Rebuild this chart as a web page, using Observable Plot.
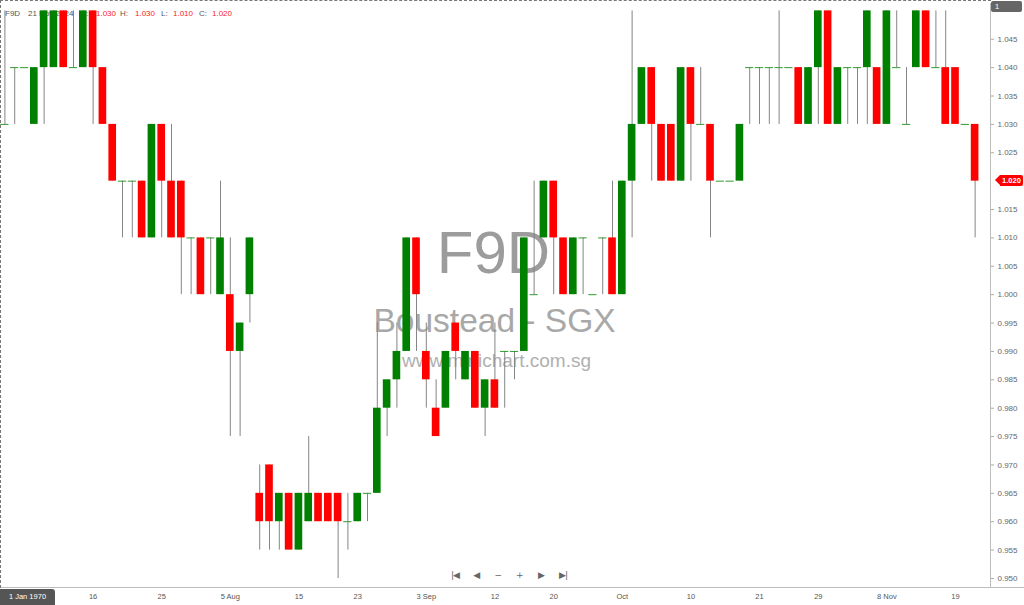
<!DOCTYPE html>
<html>
<head>
<meta charset="utf-8">
<script src="https://cdn.jsdelivr.net/npm/d3@7"></script>
<script src="https://cdn.jsdelivr.net/npm/@observablehq/plot@0.6"></script>
<style>
  html, body { margin: 0; padding: 0; background: #fff; }
  #wrap { position: relative; width: 1024px; height: 605px; overflow: hidden;
          font-family: "Liberation Sans", Arial, sans-serif; }
  #legend { position: absolute; left: 0; top: 0; width: 320px; height: 24px; z-index: 0;
            font-size: 8px; color: #555; }
  #legend span { position: absolute; top: 9px; white-space: nowrap; }
  #legend .v { color: #ff1a1a; }
  #chart { position: absolute; left: 0; top: 0; z-index: 1; }
  #border { position: absolute; left: 0; top: 0; width: 991px; height: 588px; box-sizing: border-box;
            border-top: 1px dashed #777; border-left: 1px dashed #777; z-index: 2; pointer-events: none; }
  .tag { position: absolute; z-index: 3; color: #fff; font-size: 7.5px; line-height: 11px; }
  #pageTag { left: 991px; top: 1px; width: 31px; height: 11px; background: #666; border-radius: 2px;
             padding-left: 4px; box-sizing: border-box; }
  #dateTag { left: 0; top: 589px; width: 55px; height: 16px; background: #555; border-radius: 0 3px 0 0;
             text-align: center; line-height: 16px; }
  #priceTag { left: 1000px; width: 23px; height: 11px; background: #ff0000; font-weight: bold;
              text-align: center; border-radius: 0 2px 2px 0; }
  #priceTag::before { content: ""; position: absolute; left: -5px; top: 0; border-top: 5.5px solid transparent;
                      border-bottom: 5.5px solid transparent; border-right: 5px solid #ff0000; }
  #nav { position: absolute; top: 569px; left: 0; width: 1024px; height: 12px; z-index: 3;
         font-family: "DejaVu Sans", sans-serif; font-size: 9px; color: #666; }
  #nav span { position: absolute; transform: translateX(-50%); line-height: 12px; white-space: nowrap; }
</style>
</head>
<body>
<div id="wrap">
  <div id="legend"></div>
  <div id="chart"></div>
  <div id="border"></div>
  <div id="pageTag" class="tag">1</div>
  <div id="dateTag" class="tag">1 Jan 1970</div>
  <div id="priceTag" class="tag"></div>
  <div id="nav"></div>
</div>
<script>
// F9D Boustead (SGX) daily sessions, 3 Jul 2024 – 21 Nov 2024
const symbol = "F9D";
const company = "Boustead - SGX";
const site = "www.minichart.com.sg";
const lastSession = "21 Nov 2024";

const open = [
  1.030, 1.040, 1.040, 1.030, 1.040, 1.040, 1.050, 1.040, 1.040, 1.050,
  1.040, 1.030, 1.020, 1.020, 1.020, 1.010, 1.030, 1.020, 1.020, 1.010,
  1.010, 1.010, 1.000, 1.000, 0.990, 1.000, 0.965, 0.970, 0.960, 0.965,
  0.955, 0.960, 0.965, 0.965, 0.965, 0.960, 0.960, 0.965, 0.965, 0.980,
  0.985, 0.990, 1.010, 0.990, 0.980, 0.980, 0.995, 0.985, 0.990, 0.980,
  0.985, 0.990, 0.990, 0.990, 1.000, 1.010, 1.020, 1.010, 1.000, 1.010,
  1.000, 1.010, 1.010, 1.000, 1.020, 1.030, 1.040, 1.030, 1.030, 1.020,
  1.040, 1.030, 1.030, 1.020, 1.020, 1.020, 1.040, 1.040, 1.040, 1.040,
  1.040, 1.040, 1.030, 1.040, 1.050, 1.030, 1.040, 1.040, 1.040, 1.040,
  1.030, 1.040, 1.030, 1.040, 1.050, 1.040, 1.040, 1.040, 1.030, 1.030
];
const high = [
  1.050, 1.040, 1.040, 1.040, 1.050, 1.050, 1.050, 1.050, 1.050, 1.050,
  1.040, 1.030, 1.020, 1.020, 1.020, 1.030, 1.030, 1.030, 1.020, 1.010,
  1.010, 1.010, 1.020, 1.010, 0.995, 1.010, 0.970, 0.970, 0.965, 0.965,
  0.965, 0.975, 0.965, 0.965, 0.965, 0.965, 0.965, 0.965, 0.995, 0.985,
  0.995, 1.010, 1.010, 0.995, 0.985, 0.990, 0.995, 0.990, 0.990, 0.985,
  0.995, 0.990, 0.990, 1.010, 1.020, 1.020, 1.020, 1.010, 1.010, 1.010,
  1.000, 1.010, 1.020, 1.020, 1.050, 1.040, 1.040, 1.030, 1.030, 1.040,
  1.040, 1.040, 1.030, 1.020, 1.020, 1.030, 1.040, 1.040, 1.040, 1.050,
  1.040, 1.040, 1.040, 1.050, 1.050, 1.040, 1.040, 1.040, 1.050, 1.040,
  1.050, 1.050, 1.040, 1.050, 1.050, 1.050, 1.050, 1.040, 1.030, 1.030
];
const low = [
  1.030, 1.030, 1.040, 1.030, 1.030, 1.040, 1.040, 1.040, 1.040, 1.030,
  1.030, 1.020, 1.010, 1.010, 1.010, 1.010, 1.010, 1.010, 1.000, 1.000,
  1.000, 1.000, 1.000, 0.975, 0.975, 0.995, 0.955, 0.955, 0.955, 0.955,
  0.955, 0.960, 0.960, 0.960, 0.950, 0.955, 0.960, 0.960, 0.965, 0.975,
  0.980, 0.990, 0.990, 0.980, 0.975, 0.980, 0.985, 0.985, 0.980, 0.975,
  0.980, 0.980, 0.985, 0.990, 1.000, 1.010, 1.000, 1.000, 1.000, 1.000,
  1.000, 1.000, 1.000, 1.000, 1.010, 1.030, 1.020, 1.020, 1.020, 1.020,
  1.020, 1.030, 1.010, 1.020, 1.020, 1.020, 1.030, 1.030, 1.030, 1.030,
  1.040, 1.030, 1.030, 1.030, 1.030, 1.030, 1.030, 1.030, 1.030, 1.030,
  1.030, 1.040, 1.030, 1.040, 1.040, 1.040, 1.030, 1.030, 1.030, 1.010
];
const close = [
  1.030, 1.040, 1.040, 1.040, 1.050, 1.050, 1.040, 1.040, 1.050, 1.040,
  1.030, 1.020, 1.020, 1.020, 1.010, 1.030, 1.020, 1.010, 1.010, 1.010,
  1.000, 1.010, 1.010, 0.990, 0.995, 1.010, 0.960, 0.960, 0.965, 0.955,
  0.965, 0.965, 0.960, 0.960, 0.960, 0.960, 0.965, 0.965, 0.980, 0.985,
  0.990, 1.010, 1.000, 0.985, 0.975, 0.990, 0.990, 0.990, 0.980, 0.985,
  0.980, 0.990, 0.990, 1.010, 1.000, 1.020, 1.010, 1.000, 1.010, 1.010,
  1.000, 1.010, 1.000, 1.020, 1.030, 1.040, 1.030, 1.020, 1.020, 1.040,
  1.030, 1.030, 1.020, 1.020, 1.020, 1.030, 1.040, 1.040, 1.040, 1.040,
  1.040, 1.030, 1.040, 1.050, 1.030, 1.040, 1.040, 1.040, 1.050, 1.030,
  1.050, 1.040, 1.030, 1.050, 1.040, 1.040, 1.030, 1.030, 1.030, 1.020
];

// session index -> date label on the time axis
const tickSessions = [9, 16, 23, 30, 36, 43, 50, 56, 63, 70, 77, 83, 90, 97];
const tickLabels = ["16", "25", "5 Aug", "15", "23", "3 Sep", "12", "20", "Oct", "10", "21", "29", "8 Nov", "19"];

// price axis ticks
const priceTicks = [0.950, 0.955, 0.960, 0.965, 0.970, 0.975, 0.980, 0.985, 0.990, 0.995,
                    1.000, 1.005, 1.010, 1.015, 1.020, 1.025, 1.030, 1.035, 1.040, 1.045];

const navGlyphs = ["|◀", "◀", "−", "+", "▶", "▶|"];

const bars = open.map((o, i) => ({i, open: o, high: high[i], low: low[i], close: close[i]}));
const bodies = bars.filter(d => d.open !== d.close);
const dojis = bars.filter(d => d.open === d.close);
const labelOf = new Map(tickSessions.map((s, k) => [s, tickLabels[k]]));
const last = bars[bars.length - 1];

const xDomain = [-0.45, 100.57];
const yDomain = [0.94841, 1.0513];
const half = 0.39;
const fmt = d3.format(".3f");

const plot = Plot.plot({
  width: 1024,
  height: 605,
  marginLeft: 0,
  marginRight: 34,
  marginTop: 3,
  marginBottom: 18,
  style: {background: "transparent", fontFamily: "Liberation Sans, Arial, sans-serif"},
  x: {type: "linear", domain: xDomain},
  y: {domain: yDomain},
  marks: [
    // watermark
    Plot.text([symbol], {frameAnchor: "middle", dx: -2, dy: -42, fontSize: 60, fill: "#9c9c9c"}),
    Plot.text([company], {frameAnchor: "middle", dx: -1, dy: 26, fontSize: 33.5, fill: "#a8a8a8"}),
    Plot.text([site], {frameAnchor: "middle", dx: 1, dy: 65, fontSize: 19, fill: "#b0b0b0"}),
    // frame lines of the price pane
    Plot.ruleX([xDomain[1]], {stroke: "#bdbdbd"}),
    Plot.ruleY([yDomain[0]], {x1: xDomain[0], x2: xDomain[1] + 4, stroke: "#bdbdbd"}),
    // candles
    Plot.ruleX(bars, {x: "i", y1: "low", y2: "high", stroke: "#858585", strokeWidth: 1}),
    Plot.rect(bodies, {
      x1: d => d.i - half, x2: d => d.i + half, y1: "open", y2: "close",
      fill: d => d.close > d.open ? "#008000" : "#ff0000"
    }),
    Plot.ruleY(dojis, {y: "close", x1: d => d.i - 0.42, x2: d => d.i + 0.42, stroke: "#2f9a2f", strokeWidth: 1}),
    // axes (the level of the last close is shown by the price marker instead)
    Plot.axisY(priceTicks.filter(t => t !== last.close), {
      anchor: "right", tickSize: 3, tickPadding: 4, tickFormat: fmt,
      fontSize: 8, stroke: "#aaa", fill: "#666", label: null
    }),
    Plot.axisX(tickSessions, {
      anchor: "bottom", tickSize: 0, tickPadding: 6, tickFormat: i => labelOf.get(i),
      fontSize: 7.5, fill: "#555", label: null
    })
  ]
});
document.getElementById("chart").appendChild(plot);

// OHLC read-out for the latest session
const legendItems = [
  {t: symbol, x: 5}, {t: lastSession, x: 28},
  {t: "O:", x: 80}, {t: fmt(last.open), x: 96, v: true},
  {t: "H:", x: 120}, {t: fmt(last.high), x: 135, v: true},
  {t: "L:", x: 161}, {t: fmt(last.low), x: 173, v: true},
  {t: "C:", x: 199}, {t: fmt(last.close), x: 212, v: true}
];
const legend = document.getElementById("legend");
for (const it of legendItems) {
  const s = document.createElement("span");
  s.textContent = it.t;
  s.style.left = it.x + "px";
  if (it.v) s.className = "v";
  legend.appendChild(s);
}

// last price marker on the price axis
const yScale = plot.scale("y");
const priceTag = document.getElementById("priceTag");
priceTag.textContent = fmt(last.close);
priceTag.style.top = (yScale.apply(last.close) - 5.5) + "px";

// chart navigation buttons
const nav = document.getElementById("nav");
navGlyphs.forEach((g, k) => {
  const s = document.createElement("span");
  s.textContent = g;
  s.style.left = (455 + k * 21.6) + "px";
  if (g.includes("|")) s.style.letterSpacing = "-1px";
  nav.appendChild(s);
});
</script>
</body>
</html>
